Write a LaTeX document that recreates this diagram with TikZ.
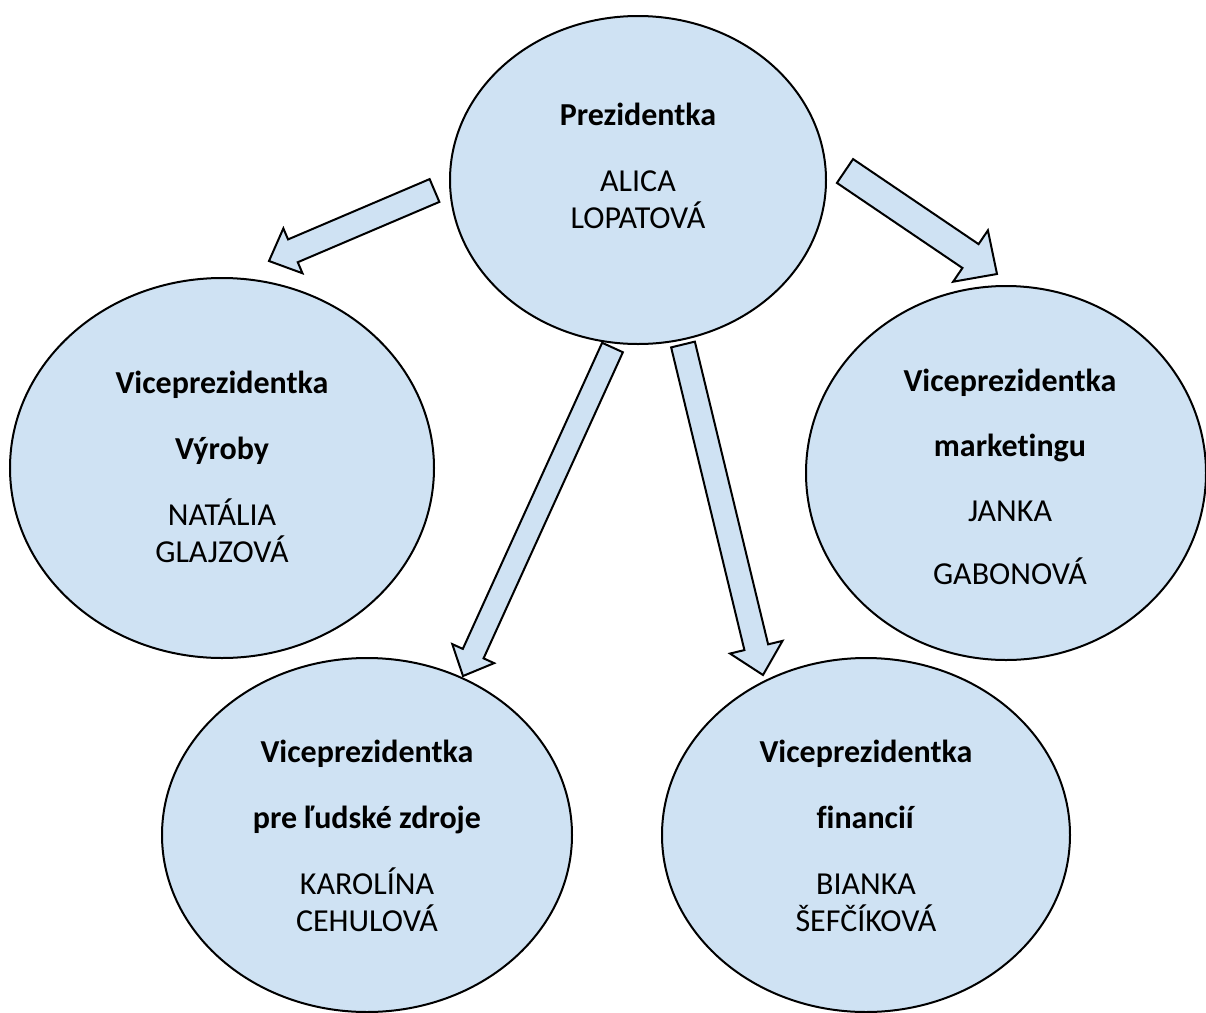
\documentclass[tikz,border=0pt]{standalone}
\usepackage{fontspec}
\setmainfont{Carlito}[Ligatures={NoCommon,NoContextual,NoRare}, Contextuals=NoAlternate]
\usetikzlibrary{calc,shapes.geometric}
\definecolor{ovalblue}{HTML}{CFE2F3}

\tikzset{
  oval/.style={draw, ellipse, fill=ovalblue, line width=1pt, inner sep=0pt},
  txt/.style={align=center, font=\fontsize{16}{18.5}\selectfont, inner sep=0pt},
  barrow/.style={draw, fill=ovalblue, line width=1pt, line join=miter},
}

% block arrow: tail, tip, half shaft, half head, head length
\newcommand{\blockarrow}[5]{%
  \coordinate (ab) at ($(#2)!#5!(#1)$);
  \draw[barrow] ($(#1)!#3!90:(#2)$) -- ($(ab)!#3!-90:(#1)$) -- ($(ab)!#4!-90:(#1)$)
    -- (#2) -- ($(ab)!#4!90:(#1)$) -- ($(ab)!#3!90:(#1)$) -- ($(#1)!#3!-90:(#2)$) -- cycle;}

\begin{document}
\begin{tikzpicture}[x=0.5pt, y=-0.5pt]
            \useasboundingbox (0,0) rectangle (1206,1013);
            \node[oval, minimum width=188pt, minimum height=164pt] (pres) at (638,180) {};
            \node[oval, minimum width=212pt, minimum height=190pt] (vyr) at (222,468) {};
            \node[oval, minimum width=200pt, minimum height=187pt] (mkt) at (1006,473) {};
            \node[oval, minimum width=205pt, minimum height=177pt] (hr) at (367,835) {};
            \node[oval, minimum width=204pt, minimum height=177pt] (fin) at (866,835) {};

            % base = last line
            \node[txt, anchor=base] (presT) at (638,228) {\textbf{Prezidentka}\\[14.5pt]ALICA\\LOPATOVÁ};
            \node[txt, anchor=base] (vyrT) at (222,562) {\textbf{Viceprezidentka}\\[14.5pt]\textbf{Výroby}\\[14.5pt]NATÁLIA\\GLAJZOVÁ};
            \node[txt, anchor=base] (mktT) at (1010,584) {\textbf{Viceprezidentka}\\[14pt]\textbf{marketingu}\\[14pt]JANKA\\[13pt]GABONOVÁ};
            \node[txt, anchor=base] (hrT) at (367,931) {\textbf{Viceprezidentka}\\[14.5pt]\textbf{pre ľudské zdroje}\\[14.5pt]KAROLÍNA\\CEHULOVÁ};
            \node[txt, anchor=base] (finT) at (866,931) {\textbf{Viceprezidentka}\\[14.5pt]\textbf{financií}\\[14.5pt]BIANKA\\ŠEFČÍKOVÁ};

            % arrows
            \coordinate (t1) at (434.5,190.5);
            \coordinate (h1) at (269,261);
            \coordinate (t2) at (845,171);
            \coordinate (h2) at (997,274);
            \coordinate (t3) at (612.5,347.5);
            \coordinate (h3) at (463,676);
            \coordinate (t4) at (683,344.5);
            \coordinate (h4) at (763,675);
            \blockarrow{t1}{h1}{6.2pt}{12.2pt}{13pt}
            \blockarrow{t2}{h2}{7.2pt}{15.5pt}{16pt}
            \blockarrow{t3}{h3}{5.7pt}{11.5pt}{12.3pt}
            \blockarrow{t4}{h4}{6.1pt}{13.5pt}{14.3pt}
\end{tikzpicture}
\end{document}
